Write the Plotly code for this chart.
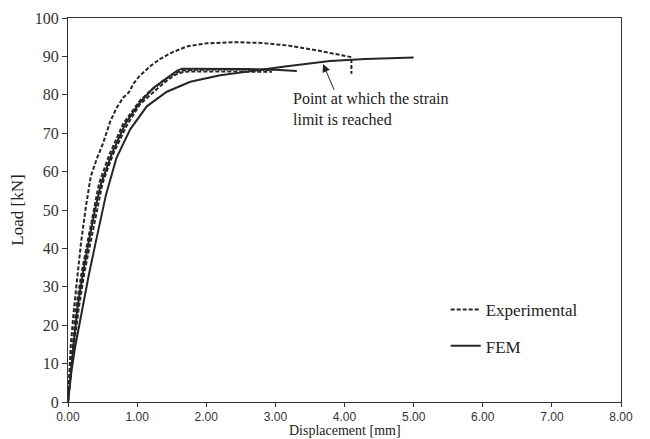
import plotly.graph_objects as go

# Experimental curves (dashed)
exp1_x = [0, 0.02, 0.04, 0.09, 0.14, 0.19, 0.26, 0.33, 0.42, 0.5, 0.61, 0.7, 0.8, 0.88, 0.95, 1.04, 1.2, 1.33, 1.5, 1.72, 2.0, 2.4, 2.8, 3.2, 3.65, 4.1, 4.1]
exp1_y = [0, 8, 14.8, 25, 34, 41.7, 51, 58.8, 63.5, 67, 73, 76.5, 79.3, 80.6, 83, 85, 87.6, 89.3, 91, 92.6, 93.4, 93.7, 93.5, 92.8, 91.4, 89.8, 85.5]

exp2_x = [0, 0.03, 0.07, 0.12, 0.2, 0.28, 0.37, 0.45, 0.6, 0.8, 1.04, 1.19, 1.4, 1.55, 1.65, 1.8, 2.2, 2.6, 2.97]
exp2_y = [0, 8, 15, 25, 34, 41.7, 50, 57, 64.5, 72.5, 78.5, 81, 84, 85.6, 86.3, 86.5, 86.6, 86.6, 86.5]

exp3_x = [0, 0.04, 0.09, 0.16, 0.24, 0.33, 0.42, 0.5, 0.65, 0.85, 1.04, 1.19, 1.4, 1.55, 1.67, 1.9, 2.3, 2.7, 2.95]
exp3_y = [0, 8, 15, 25, 34, 41.7, 50, 57, 64.5, 72, 77.5, 80, 83.3, 85.2, 86, 86.1, 86.1, 86.0, 86.0]

# FEM curves (solid)
fem1_x = [0, 0.04, 0.08, 0.14, 0.22, 0.3, 0.39, 0.48, 0.63, 0.83, 1.04, 1.23, 1.48, 1.58, 1.65, 2.2, 2.6, 3.0, 3.31]
fem1_y = [0, 8, 15, 25, 34, 41.7, 50, 57, 64.5, 72.5, 78, 81.7, 85, 86.3, 86.8, 86.8, 86.7, 86.5, 86.2]

fem2_x = [0, 0.05, 0.1, 0.2, 0.3, 0.4, 0.55, 0.7, 0.9, 1.14, 1.43, 1.77, 2.2, 2.63, 3.11, 3.79, 4.3, 5.0]
fem2_y = [0, 8, 14, 24, 33, 41.5, 54, 63.5, 71, 77, 80.8, 83.4, 85.1, 86.1, 87.3, 88.8, 89.3, 89.7]

x_ticks = [0, 1, 2, 3, 4, 5, 6, 7, 8]
x_tick_labels = ["0.00", "1.00", "2.00", "3.00", "4.00", "5.00", "6.00", "7.00", "8.00"]
y_ticks = [0, 10, 20, 30, 40, 50, 60, 70, 80, 90, 100]

COL = "#262626"
DASH = "4px,2px"
SERIF = "Liberation Serif"

fig = go.Figure()
fig.add_trace(go.Scatter(x=exp1_x, y=exp1_y, mode="lines", name="Experimental",
                         line=dict(color=COL, width=2, dash=DASH), legend="legend"))
fig.add_trace(go.Scatter(x=exp2_x, y=exp2_y, mode="lines", showlegend=False,
                         line=dict(color=COL, width=2, dash=DASH)))
fig.add_trace(go.Scatter(x=exp3_x, y=exp3_y, mode="lines", showlegend=False,
                         line=dict(color=COL, width=2, dash=DASH)))
fig.add_trace(go.Scatter(x=fem1_x, y=fem1_y, mode="lines", showlegend=False,
                         line=dict(color=COL, width=2)))
fig.add_trace(go.Scatter(x=fem2_x, y=fem2_y, mode="lines", name="FEM",
                         line=dict(color=COL, width=2), legend="legend2"))

# annotation arrow and text
fig.add_annotation(x=3.69, y=88, ax=3.86, ay=80.9, axref="x", ayref="y",
                   xref="x", yref="y", text="", showarrow=True,
                   arrowhead=2, arrowsize=1.6, arrowwidth=1, arrowcolor=COL)
fig.add_annotation(x=3.22, y=76.4, xref="x", yref="y", xanchor="left", yanchor="middle",
                   text="Point at which the strain<br>limit is reached", showarrow=False,
                   align="left", font=dict(family=SERIF, size=16, color="#222"))

# x-axis title
fig.add_annotation(x=0.5, y=0, xref="paper", yref="paper", xanchor="center", yanchor="bottom",
                   yshift=-37, text="Displacement [mm]", showarrow=False, borderpad=0,
                   font=dict(family=SERIF, size=14, color="#222"))

legend_common = dict(bgcolor="rgba(0,0,0,0)", font=dict(family=SERIF, size=17, color="#222"),
                     xanchor="left", yanchor="middle", itemwidth=30)
fig.update_layout(
    width=650, height=439,
    margin=dict(l=68, r=29, t=18, b=37),
    paper_bgcolor="white", plot_bgcolor="white",
    legend=dict(x=0.683, y=0.24, **legend_common),
    legend2=dict(x=0.683, y=0.145, **legend_common),
    xaxis=dict(range=[0, 8], tickvals=x_ticks, ticktext=x_tick_labels, automargin=False,
               showgrid=False, zeroline=False, showline=True, linecolor="#333", linewidth=1,
               mirror=True, ticks="outside", ticklen=4, tickcolor="#333",
               tickfont=dict(family="Liberation Sans", size=12, color="#333")),
    yaxis=dict(range=[0, 100], tickvals=y_ticks, automargin=False,
               showgrid=False, zeroline=False, showline=True, linecolor="#333", linewidth=1,
               mirror=True, ticks="outside", ticklen=5, tickcolor="#333",
               tickfont=dict(family=SERIF, size=16, color="#333"),
               title=dict(text="Load [kN]", font=dict(family=SERIF, size=17, color="#222"),
                          standoff=6)),
)

fig.write_html("out.html", post_script="document.body.style.margin='0';",
               config={"displayModeBar": False})
